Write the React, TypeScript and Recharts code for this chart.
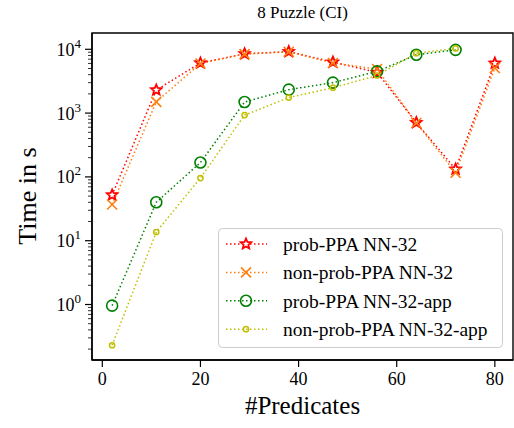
import { Line, LineChart, XAxis, YAxis, ReferenceArea } from "recharts"

const predicates = [2, 11, 20, 29, 38, 47, 56, 64, 72, 80]
const probNN32 = [52, 2300, 6100, 8500, 9200, 6300, 4350, 710, 132, 6050]
const nonProbNN32 = [37, 1500, 6000, 8400, 9100, 6100, 4900, 700, 116, 5100]
const probNN32App = [0.96, 40, 168, 1490, 2330, 3000, 4500, 8200, 9800, null]
const nonProbNN32App = [0.23, 13.7, 96, 930, 1750, 2500, 3880, 8700, 10300, null]

const xTicks = [0, 20, 40, 60, 80]
const yMajor = [1, 10, 100, 1000, 10000]
const yMinor = [0.2, 0.3, 0.4, 0.5, 0.6, 0.7, 0.8, 0.9].flatMap((m) =>
  [1, 10, 100, 1000].map((p) => +(m * 10 * p).toPrecision(3))
).concat([0.2, 0.3, 0.4, 0.5, 0.6, 0.7, 0.8, 0.9])

const seriesNames = [
  "prob-PPA NN-32",
  "non-prob-PPA NN-32",
  "prob-PPA NN-32-app",
  "non-prob-PPA NN-32-app",
]

const xDomain = [-2.1, 83.7]
const yDomain = [0.135, 18000]

const data = predicates.map((p, i) => ({
  p,
  a: probNN32[i],
  b: nonProbNN32[i],
  c: probNN32App[i],
  d: nonProbNN32App[i],
}))

const font = "'Liberation Serif', 'DejaVu Serif'"
const RED = "#ff0000"
const ORANGE = "#ff7f0e"
const GREEN = "#008000"
const OLIVE = "#bfbf00"
const dots = "1.5 2.5"

function starPath(cx: number, cy: number, r: number) {
  const pts = []
  for (let i = 0; i < 10; i++) {
    const rr = i % 2 === 0 ? r : r * 0.45
    const a = -Math.PI / 2 + (i * Math.PI) / 5
    pts.push(`${cx + rr * Math.cos(a)},${cy + rr * Math.sin(a)}`)
  }
  return "M" + pts.join("L") + "Z"
}

function Marker({ kind, cx, cy }: { kind: string; cx: number; cy: number }) {
  if (cx == null || cy == null) return null
  if (kind === "star")
    return <path d={starPath(cx, cy, 5.5)} fill="#fff" stroke={RED} strokeWidth={1.8} />
  if (kind === "x")
    return (
      <g stroke={ORANGE} strokeWidth={1.6}>
        <line x1={cx - 5} y1={cy - 5} x2={cx + 5} y2={cy + 5} />
        <line x1={cx - 5} y1={cy + 5} x2={cx + 5} y2={cy - 5} />
      </g>
    )
  if (kind === "big")
    return <circle cx={cx} cy={cy} r={5.5} fill="none" stroke={GREEN} strokeWidth={1.6} />
  return <circle cx={cx} cy={cy} r={2.6} fill="none" stroke={OLIVE} strokeWidth={1.5} />
}

const dotFor = (kind: string) => (props: any) => (
  <Marker key={`${kind}-${props.index}`} kind={kind} cx={props.cx} cy={props.cy} />
)

function YTick(props: any) {
  const { x, y, payload } = props
  const v = payload.value
  const exp = Math.round(Math.log10(v))
  const major = Math.abs(Math.log10(v) - exp) < 1e-6
  return (
    <g>
      <line x1={x} x2={x - (major ? 7 : 4)} y1={y} y2={y} stroke="#000" strokeWidth={major ? 1.2 : 0.8} />
      {major && (
        <text x={x - 11} y={y} dy="0.36em" textAnchor="end" fontFamily={font} fontSize={18} fill="#000">
          10<tspan dy={-8} fontSize={13}>{exp}</tspan>
        </text>
      )}
    </g>
  )
}

const legendKinds = ["star", "x", "big", "small"]
const legendColors = [RED, ORANGE, GREEN, OLIVE]

function LegendBox() {
  return (
    <svg width={286} height={121} style={{ position: "absolute", left: 218, top: 228 }}>
      <rect x={0.5} y={0.5} width={284} height={119} rx={4} fill="#fff" fillOpacity={0.8} stroke="#ccc" />
      {seriesNames.map((name, i) => {
        const cy = 16 + i * 28.4
        return (
          <g key={name}>
            <line x1={8} x2={49} y1={cy} y2={cy} stroke={legendColors[i]} strokeWidth={1.5} strokeDasharray={dots} />
            <Marker kind={legendKinds[i]} cx={28} cy={cy} />
            <text x={65} y={cy} dy="0.35em" fontFamily={font} fontSize={19.5} fill="#000">
              {name}
            </text>
          </g>
        )
      })}
    </svg>
  )
}

export default function App() {
  return (
    <div style={{ position: "absolute", left: 0, top: 0, width: 514, height: 428, background: "#fff" }}>
      <div
        style={{
          position: "absolute", left: 92, width: 421, top: 3, textAlign: "center",
          fontFamily: font, fontSize: 17, color: "#000",
        }}
      >
        8 Puzzle (CI)
      </div>
      <div
        style={{
          position: "absolute", left: 92, width: 421, top: 392, textAlign: "center",
          fontFamily: font, fontSize: 25, color: "#000",
        }}
      >
        #Predicates
      </div>
      <svg style={{ position: "absolute", left: 0, top: 0 }} width={60} height={428}>
        <text
          x={0} y={0} transform="translate(36 196) rotate(-90)" textAnchor="middle"
          fontFamily={font} fontSize={26} fill="#000"
        >
          Time in s
        </text>
      </svg>
      <LineChart
        width={514}
        height={428}
        data={data}
        margin={{ top: 33, right: 1, bottom: 0, left: 0 }}
        style={{ position: "absolute", left: 0, top: 0 }}
      >
        <XAxis
          dataKey="p"
          type="number"
          domain={xDomain}
          ticks={xTicks}
          allowDataOverflow
          tickSize={7}
          tickMargin={5}
          stroke="#000"
          tickLine={{ stroke: "#000", strokeWidth: 1.2 }}
          axisLine={{ stroke: "#000", strokeWidth: 1.4 }}
          tick={{ fontFamily: font, fontSize: 18, fill: "#000" }}
          height={68}
        />
        <YAxis
          scale="log"
          type="number"
          domain={yDomain}
          allowDataOverflow
          ticks={[...yMajor, ...yMinor]}
          interval={0}
          tick={<YTick />}
          tickLine={false}
          tickSize={0}
          tickMargin={0}
          axisLine={{ stroke: "#000", strokeWidth: 1.4 }}
          width={92}
        />
        <ReferenceArea
          x1={xDomain[0]}
          x2={xDomain[1]}
          y1={yDomain[0]}
          y2={yDomain[1]}
          fill="none"
          stroke="#000"
          strokeWidth={1.4}
        />
        <Line dataKey="a" name={seriesNames[0]} stroke={RED} strokeWidth={1.5} strokeDasharray={dots}
          dot={dotFor("star")} activeDot={false} isAnimationActive={false} />
        <Line dataKey="b" name={seriesNames[1]} stroke={ORANGE} strokeWidth={1.5} strokeDasharray={dots}
          dot={dotFor("x")} activeDot={false} isAnimationActive={false} />
        <Line dataKey="c" name={seriesNames[2]} stroke={GREEN} strokeWidth={1.5} strokeDasharray={dots}
          dot={dotFor("big")} activeDot={false} isAnimationActive={false} />
        <Line dataKey="d" name={seriesNames[3]} stroke={OLIVE} strokeWidth={1.5} strokeDasharray={dots}
          dot={dotFor("small")} activeDot={false} isAnimationActive={false} />
      </LineChart>
      <LegendBox />
    </div>
  )
}
